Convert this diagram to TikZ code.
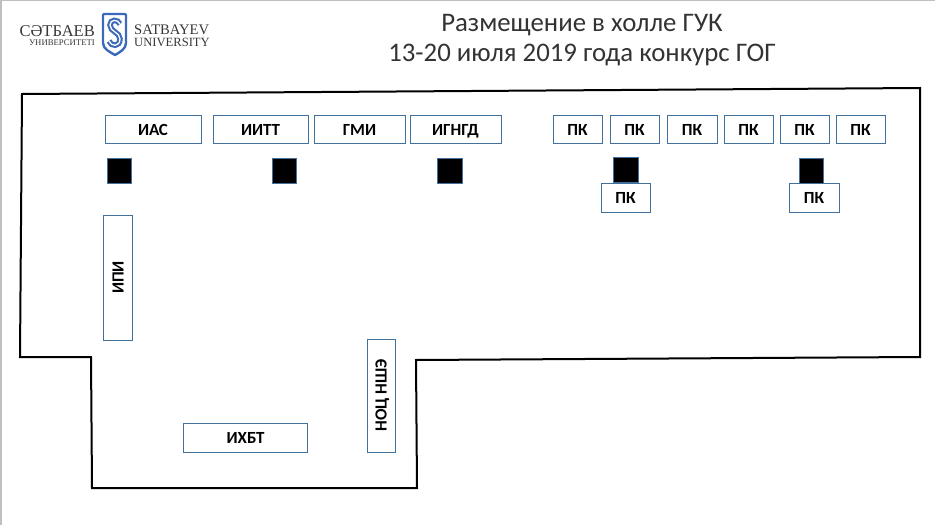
\documentclass[tikz,border=0pt]{standalone}
\usepackage{fontspec}
\setmainfont{Carlito}
\newfontfamily\logofont{Liberation Serif}
\usetikzlibrary{calc}
\definecolor{boxblue}{RGB}{65,113,156}
\definecolor{logoblue}{RGB}{60,105,185}
\definecolor{logogray}{RGB}{55,55,55}
\tikzset{
 room/.style={black, line width=2pt, line join=miter},
 dept/.style={draw=boxblue, line width=.9pt, fill=white, font=\bfseries\fontsize{17}{17}\selectfont, inner sep=0, text height=11pt, text depth=0pt},
 post/.style={draw=boxblue, line width=.9pt, fill=black, inner sep=0},
}
\begin{document}
\begin{tikzpicture}[x=1pt,y=-1pt]
\useasboundingbox (0,0) rectangle (935,525);
\draw[black!25, line width=1.5pt] (1,525)--(1,.5)--(935,.5);
% logo
\node[logogray, font=\logofont\fontsize{16.5}{17}\selectfont, anchor=east, inner sep=0] (kz) at (95,31) {СӘТБАЕВ};
\node[logogray, font=\logofont\fontsize{8.7}{9}\selectfont, anchor=east, inner sep=0] (kzsub) at (95,43) {УНИВЕРСИТЕТІ};
\node[logogray, font=\logofont\fontsize{14.6}{15}\selectfont, anchor=west, inner sep=0] (en) at (134,30) {SATBAYEV};
\node[logogray, font=\logofont\fontsize{12.6}{13}\selectfont, anchor=west, inner sep=0] (ensub) at (134,42) {UNIVERSITY};
\draw[logoblue, line width=2.4pt, line join=round] (104,14)--(125,14)--(126,15)--(126,43)
 .. controls (126,49) and (120,52) .. (115,55) .. controls (110,52) and (103,49) .. (103,43)--(103,15)--cycle;
\foreach \wd/\col in {5.5pt/logoblue,1.3pt/white}
 \draw[\col, line width=\wd] (120,24) .. controls (118,19) and (110,19) .. (110,25)
 .. controls (110,32) and (120,32) .. (120,39) .. controls (120,47) and (111,47) .. (109,41);
% title
\node[font=\fontsize{26.8}{30}\selectfont, align=center, text=black!80] (title) at (582,40) {Размещение в холле ГУК\\13-20 июля 2019 года конкурс ГОГ};
% hall outline
\draw[room] (22,94)--(920,88)--(920,357)--(416,360)--(417,488)--(92,488)--(91,357)--(20,357)--cycle;
% departments
\foreach \name/\xa/\xb/\txt in {ias/105/201/ИАС,iitt/213/308/ИИТТ,gmi/314/405/ГМИ,igngd/410/501/ИГНГД,
 pka/553/602/ПК,pkb/610/659/ПК,pkc/667/717/ПК,pkd/724/773/ПК,pke/780/829/ПК,pkf/836/885/ПК}
 \node[dept, minimum width={(\xb-\xa)*1pt}, minimum height=28pt] (\name) at ({(\xa+\xb)/2},129.5) {\txt};
% posts
\foreach \name/\x/\y in {posta/119.5/171,postb/284.5/171,postc/450/171,postd/626/170,poste/811.5/171}
 \node[post, minimum width=24.5pt, minimum height=25pt] (\name) at (\x,\y) {};
\node[dept, minimum width=49pt, minimum height=29pt] (pkg) at (625.5,197.5) {ПК};
\node[dept, minimum width=50pt, minimum height=29pt] (pkh) at (814,197.5) {ПК};
% lower desks
\node[dept, rotate=90, minimum width=125pt, minimum height=29pt] (ipi) at (118,277.5) {ИПИ};
\node[dept, rotate=90, minimum width=113pt, minimum height=28pt] (noc) at (381,395.5) {НОЦ НШЭ};
\node[dept, minimum width=124pt, minimum height=29pt] (ixbt) at (245.5,437.5) {ИХБТ};
\end{tikzpicture}
\end{document}
